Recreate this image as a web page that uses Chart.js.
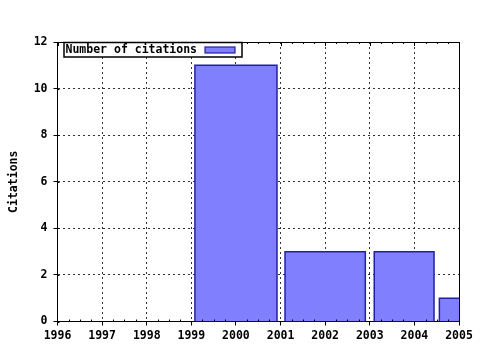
<!DOCTYPE html>
<html>
<head>
<meta charset="utf-8">
<script src="https://cdn.jsdelivr.net/npm/chart.js@4/dist/chart.umd.min.js"></script>
<style>
  html, body { margin: 0; padding: 0; background: #fff; }
  #wrap { width: 480px; height: 350px; }
</style>
</head>
<body>
<div id="wrap"><canvas id="cites"></canvas></div>
<script>
// --- Data ---
const seriesLabel = 'Number of citations';
const barStart = [1999.08, 2001.1, 2003.1, 2004.56];
const barEnd = [2000.92, 2002.9, 2004.44, 2005.6];
const citations = [11, 3, 3, 1];
const xTicks = [1996, 1997, 1998, 1999, 2000, 2001, 2002, 2003, 2004, 2005];
const yTicks = [0, 2, 4, 6, 8, 10, 12];

const FONT = { family: '"DejaVu Sans Mono", "Liberation Mono", monospace', size: 11.5, weight: 'bold' };
const FILL = '#8080ff';
const EDGE = '#2020a0';

// each bar is an outline (left, top, right) filled down to zero
const datasets = citations.map((v, i) => ({
  label: seriesLabel,
  data: [
    { x: barStart[i], y: 0 },
    { x: barStart[i], y: v },
    { x: barEnd[i], y: v },
    { x: barEnd[i], y: 0 }
  ],
  borderColor: EDGE,
  backgroundColor: FILL,
  borderWidth: 1.5,
  pointRadius: 0,
  tension: 0,
  fill: 'origin'
}));

// frame, minor ticks and the boxed legend
const framePlugin = {
  id: 'frame',
  afterDraw(chart) {
    const c = chart.ctx;
    const a = chart.chartArea;
    const xs = chart.scales.x;
    const ys = chart.scales.y;
    c.save();
    c.strokeStyle = '#000';
    c.lineWidth = 1;
    c.beginPath();
    c.moveTo(a.left, Math.round(a.top) + 0.5);
    c.lineTo(a.right, Math.round(a.top) + 0.5);
    c.moveTo(Math.round(a.right) + 0.5, a.top);
    c.lineTo(Math.round(a.right) + 0.5, a.bottom);
    for (let k = 0; k < (xTicks.length - 1) * 4; k++) {
      const px = Math.round(xs.getPixelForValue(xTicks[0] + k / 4)) + 0.5;
      const major = k % 4 === 0;
      c.moveTo(px, a.top);
      c.lineTo(px, a.top + (major ? 4 : 2));
      if (!major) {
        c.moveTo(px, a.bottom);
        c.lineTo(px, a.bottom - 2);
      }
    }
    yTicks.forEach(v => {
      const py = Math.round(ys.getPixelForValue(v)) + 0.5;
      c.moveTo(a.left, py);
      c.lineTo(a.left + 2, py);
    });
    c.stroke();

    // legend
    const lx = 64, ly = 42.5, lw = 178, lh = 14.5;
    c.fillStyle = '#fff';
    c.fillRect(lx, ly, lw, lh);
    c.lineWidth = 1.5;
    c.strokeRect(lx, ly, lw, lh);
    c.font = `${FONT.weight} ${FONT.size}px ${FONT.family}`;
    c.fillStyle = '#000';
    c.textBaseline = 'middle';
    c.fillText(chart.data.datasets[0].label, lx + 1.5, ly + lh / 2 + 0.5);
    c.fillStyle = FILL;
    c.fillRect(lx + 141, ly + 4.5, 30, 6);
    c.strokeStyle = EDGE;
    c.lineWidth = 1.2;
    c.strokeRect(lx + 141, ly + 4.5, 30, 6);
    c.restore();
  }
};

new Chart(document.getElementById('cites'), {
  type: 'line',
  data: { datasets },
  options: {
    responsive: true,
    maintainAspectRatio: false,
    animation: false,
    layout: { padding: { left: 0, right: 21, top: 42, bottom: 0 } },
    plugins: {
      legend: { display: false },
      tooltip: { enabled: false }
    },
    scales: {
      x: {
        type: 'linear',
        min: xTicks[0],
        max: xTicks[xTicks.length - 1],
        afterBuildTicks: s => { s.ticks = xTicks.map(v => ({ value: v })); },
        afterFit: s => { s.height = 28.5; },
        ticks: {
          color: '#000',
          font: FONT,
          padding: 4,
          maxRotation: 0,
          autoSkip: false,
          callback: v => String(v)
        },
        grid: { color: '#333', lineWidth: 1, tickLength: 4, tickColor: '#000' },
        border: { color: '#000', width: 1, dash: [2, 3] }
      },
      y: {
        min: yTicks[0],
        max: yTicks[yTicks.length - 1],
        afterBuildTicks: s => { s.ticks = yTicks.map(v => ({ value: v })); },
        afterFit: s => { s.width = 57.5; },
        ticks: { color: '#000', font: FONT, padding: 6 },
        grid: { color: '#333', lineWidth: 1, tickLength: 4, tickColor: '#000' },
        border: { color: '#000', width: 1, dash: [2, 3] },
        title: { display: true, text: 'Citations', color: '#000', font: FONT, padding: { top: 7, bottom: 0 } }
      }
    }
  },
  plugins: [framePlugin]
});
</script>
</body>
</html>
